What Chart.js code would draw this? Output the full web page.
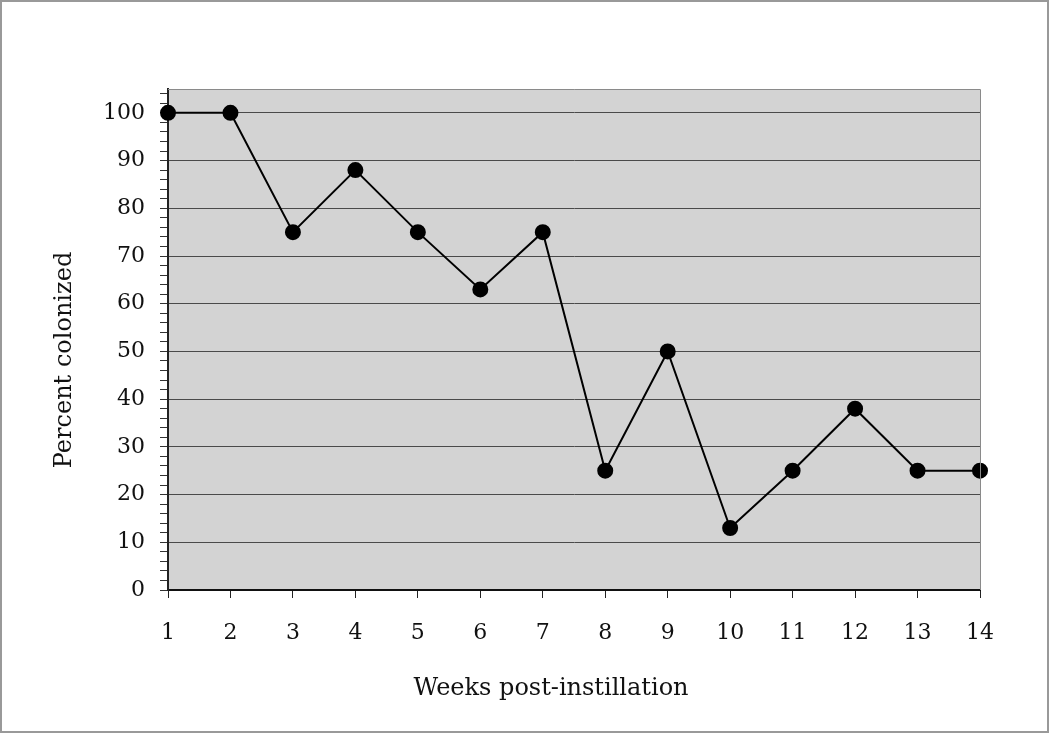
<!DOCTYPE html>
<html>
<head>
<meta charset="utf-8">
<script src="https://cdn.jsdelivr.net/npm/chart.js@4"></script>
<style>
  html, body { margin: 0; padding: 0; background: #fff; }
  canvas { display: block; }
</style>
</head>
<body>
<canvas id="c" width="1050" height="733"></canvas>
<script>
const weeks = [1, 2, 3, 4, 5, 6, 7, 8, 9, 10, 11, 12, 13, 14];
const percentColonized = [100, 100, 75, 88, 75, 63, 75, 25, 50, 13, 25, 38, 25, 25];
const yTickValues = [0, 10, 20, 30, 40, 50, 60, 70, 80, 90, 100];
const xAxisTitle = 'Weeks post-instillation';
const yAxisTitle = 'Percent colonized';

const FONT = '"DejaVu Serif", "Liberation Serif", serif';

const decor = {
  id: 'decor',
  beforeDraw(chart) {
    const { ctx, chartArea: a } = chart;
    ctx.save();
    ctx.fillStyle = '#d3d3d3';
    ctx.fillRect(a.left, a.top, a.right - a.left, a.bottom - a.top);
    ctx.restore();
  },
  afterDraw(chart) {
    const { ctx, chartArea: a } = chart;
    ctx.save();
    ctx.strokeStyle = '#8a8a8a';
    ctx.lineWidth = 1;
    ctx.beginPath();
    ctx.moveTo(a.left, a.top + 0.5);
    ctx.lineTo(a.right + 0.5, a.top + 0.5);
    ctx.lineTo(a.right + 0.5, a.bottom);
    ctx.stroke();
    ctx.strokeStyle = '#999';
    ctx.lineWidth = 2;
    ctx.strokeRect(1, 1, chart.width - 3, chart.height - 2);
    // axis titles (Excel centres them on the whole plot block, not the inner area)
    ctx.fillStyle = '#111';
    ctx.font = '24px ' + FONT;
    ctx.textAlign = 'center';
    ctx.textBaseline = 'middle';
    ctx.fillText(xAxisTitle, 551, 689);
    ctx.translate(65, 360);
    ctx.rotate(-Math.PI / 2);
    ctx.fillText(yAxisTitle, 0, 0);
    ctx.restore();
  }
};

new Chart(document.getElementById('c'), {
  type: 'line',
  data: {
    datasets: [{
      data: weeks.map((w, i) => ({ x: w, y: percentColonized[i] })),
      borderColor: '#000',
      backgroundColor: '#000',
      borderWidth: 2,
      pointRadius: 7,
      pointHoverRadius: 7,
      pointBackgroundColor: '#000',
      pointBorderColor: '#000',
      tension: 0,
      clip: false
    }]
  },
  options: {
    responsive: false,
    animation: false,
    events: [],
    layout: { padding: { top: 89, right: 70, left: 0, bottom: 0 } },
    plugins: { legend: { display: false }, tooltip: { enabled: false } },
    scales: {
      x: {
        type: 'linear',
        min: 1,
        max: 14,
        afterBuildTicks(scale) { scale.ticks = weeks.map(v => ({ value: v })); },
        afterFit(scale) { scale.height = 143; },
        grid: { drawOnChartArea: false, tickLength: 8, tickColor: '#222', lineWidth: 1 },
        border: { color: '#111', width: 2 },
        ticks: {
          color: '#111',
          padding: 22,
          maxRotation: 0,
          autoSkip: false,
          font: { family: FONT, size: 22 }
        },
        title: { display: false, text: xAxisTitle }
      },
      y: {
        type: 'linear',
        min: 0,
        max: 105,
        afterBuildTicks(scale) {
          const t = [];
          for (let v = 0; v <= 104; v += 2) t.push({ value: v });
          scale.ticks = t;
        },
        afterFit(scale) { scale.width = 168; },
        grid: {
          drawOnChartArea: true,
          tickLength: 8,
          tickColor: '#333',
          lineWidth: 1,
          color: ctx => (ctx.tick && ctx.tick.value > 0 && yTickValues.includes(ctx.tick.value)) ? '#4a4a4a' : 'rgba(0,0,0,0)'
        },
        border: { color: '#222', width: 2 },
        ticks: {
          color: '#111',
          padding: 15,
          autoSkip: false,
          font: { family: FONT, size: 22 },
          callback: v => yTickValues.includes(v) ? String(v) : ''
        },
        title: { display: false, text: yAxisTitle }
      }
    }
  },
  plugins: [decor]
});
</script>
</body>
</html>
